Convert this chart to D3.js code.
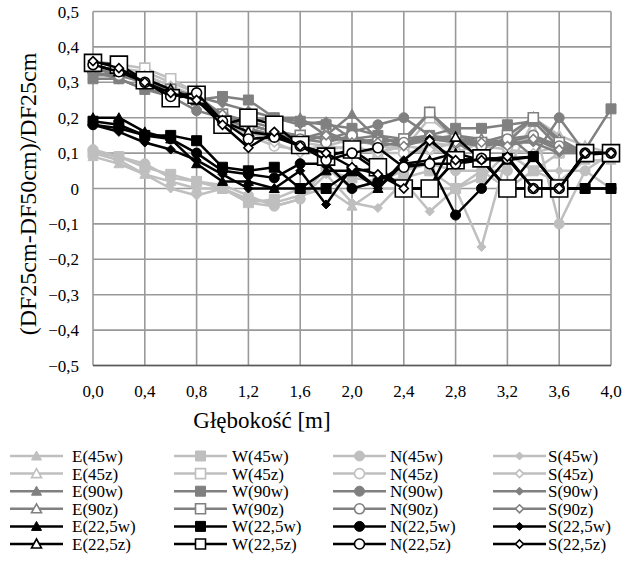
<!DOCTYPE html>
<html>
<head>
<meta charset="utf-8">
<script src="https://cdn.jsdelivr.net/npm/d3@7"></script>
</head>
<body style="margin:0">
<svg id="t" width="624" height="563"></svg>
<script>
// depth [m]
var depths = [0, 0.2, 0.4, 0.6, 0.8, 1.0, 1.2, 1.4, 1.6, 1.8, 2.0, 2.2, 2.4, 2.6, 2.8, 3.0, 3.2, 3.4, 3.6, 3.8, 4.0];

// 45 - w
var E45w = [0.09, 0.07, 0.04, 0.02, 0.00, 0.00, -0.03, -0.04, -0.02, 0.00, -0.05, 0.00, 0.00, 0.00, 0.00, 0.05, 0.00, 0.05, 0.02, 0.08, 0.08];
var W45w = [0.10, 0.09, 0.06, 0.04, 0.02, 0.00, -0.04, -0.03, 0.00, 0.05, 0.03, 0.02, 0.03, 0.05, 0.00, 0.03, 0.10, 0.05, 0.10, 0.10, 0.10];
var N45w = [0.11, 0.09, 0.07, 0.03, 0.02, 0.01, -0.02, -0.05, -0.03, 0.06, 0.00, 0.02, 0.05, 0.07, 0.05, 0.05, 0.05, 0.19, -0.10, 0.05, 0.10];
var S45w = [0.10, 0.08, 0.04, 0.00, -0.02, 0.00, -0.04, -0.05, -0.03, 0.04, -0.04, -0.055, 0.02, -0.065, 0.00, -0.165, 0.10, 0.05, 0.05, 0.05, 0.00];
// 45 - z
var E45z = [0.34, 0.34, 0.33, 0.30, 0.27, 0.20, 0.16, 0.14, 0.14, 0.15, 0.12, 0.10, 0.13, 0.13, 0.12, 0.13, 0.15, 0.20, 0.15, 0.12, 0.10];
var W45z = [0.36, 0.35, 0.34, 0.31, 0.27, 0.20, 0.17, 0.15, 0.13, 0.12, 0.14, 0.12, 0.11, 0.20, 0.14, 0.13, 0.14, 0.19, 0.12, 0.10, 0.10];
var N45z = [0.35, 0.33, 0.31, 0.28, 0.25, 0.19, 0.15, 0.12, 0.11, 0.12, 0.11, 0.10, 0.10, 0.11, 0.10, 0.13, 0.12, 0.15, 0.10, 0.10, 0.10];
var S45z = [0.35, 0.33, 0.32, 0.29, 0.26, 0.20, 0.16, 0.13, 0.10, 0.11, 0.12, 0.10, 0.12, 0.11, 0.13, 0.12, 0.11, 0.10, 0.12, 0.10, 0.10];
// 90 - w
var E90w = [0.32, 0.33, 0.30, 0.27, 0.25, 0.21, 0.19, 0.20, 0.20, 0.15, 0.21, 0.14, 0.13, 0.15, 0.14, 0.12, 0.13, 0.15, 0.11, 0.10, 0.10];
var W90w = [0.31, 0.31, 0.28, 0.27, 0.25, 0.26, 0.25, 0.20, 0.19, 0.18, 0.17, 0.15, 0.14, 0.15, 0.17, 0.17, 0.18, 0.19, 0.115, 0.11, 0.225];
var N90w = [0.33, 0.31, 0.28, 0.26, 0.22, 0.20, 0.18, 0.16, 0.15, 0.14, 0.16, 0.18, 0.20, 0.15, 0.13, 0.09, 0.15, 0.09, 0.20, 0.10, 0.10];
var S90w = [0.32, 0.32, 0.30, 0.27, 0.26, 0.24, 0.22, 0.20, 0.18, 0.19, 0.14, 0.15, 0.12, 0.14, 0.15, 0.13, 0.13, 0.13, 0.10, 0.10, 0.10];
// 90 - z
var E90z = [0.35, 0.33, 0.31, 0.28, 0.26, 0.20, 0.19, 0.17, 0.14, 0.16, 0.13, 0.14, 0.13, 0.215, 0.15, 0.14, 0.13, 0.20, 0.14, 0.10, 0.10];
var W90z = [0.34, 0.33, 0.30, 0.28, 0.25, 0.21, 0.18, 0.16, 0.15, 0.14, 0.14, 0.13, 0.14, 0.215, 0.14, 0.13, 0.15, 0.20, 0.13, 0.10, 0.10];
var N90z = [0.34, 0.32, 0.30, 0.27, 0.25, 0.20, 0.17, 0.15, 0.14, 0.13, 0.15, 0.12, 0.13, 0.14, 0.13, 0.12, 0.14, 0.15, 0.12, 0.10, 0.10];
var S90z = [0.35, 0.33, 0.30, 0.28, 0.26, 0.21, 0.18, 0.16, 0.13, 0.15, 0.13, 0.13, 0.12, 0.15, 0.13, 0.13, 0.12, 0.14, 0.11, 0.10, 0.10];
// 22,5 - w
var E22w = [0.20, 0.20, 0.16, 0.14, 0.07, 0.02, 0.02, 0.00, 0.00, 0.05, 0.05, 0.00, 0.07, 0.08, 0.10, 0.08, 0.08, 0.09, 0.00, 0.00, 0.10];
var W22w = [0.19, 0.18, 0.15, 0.15, 0.135, 0.06, 0.05, 0.06, 0.00, 0.00, 0.05, 0.055, 0.00, 0.00, 0.08, 0.085, 0.085, 0.09, 0.00, 0.00, 0.00];
var N22w = [0.18, 0.17, 0.15, 0.14, 0.10, 0.05, 0.04, 0.03, 0.07, 0.07, 0.00, 0.02, 0.065, 0.07, -0.075, 0.00, 0.085, 0.00, 0.00, 0.00, 0.00];
var S22w = [0.18, 0.16, 0.13, 0.11, 0.08, 0.04, 0.00, 0.00, 0.05, -0.045, 0.06, 0.00, 0.08, 0.14, 0.07, 0.08, 0.00, 0.09, 0.00, 0.10, 0.10];
// 22,5 - z
var E22z = [0.35, 0.33, 0.31, 0.28, 0.25, 0.19, 0.16, 0.15, 0.12, 0.10, 0.10, 0.05, 0.00, 0.00, 0.145, 0.08, 0.00, 0.00, 0.00, 0.095, 0.10];
var W22z = [0.355, 0.35, 0.306, 0.255, 0.265, 0.18, 0.20, 0.18, 0.123, 0.09, 0.11, 0.06, 0.00, 0.00, 0.08, 0.085, 0.00, 0.00, 0.00, 0.10, 0.10];
var N22z = [0.35, 0.33, 0.30, 0.26, 0.27, 0.19, 0.14, 0.145, 0.12, 0.08, 0.10, 0.115, 0.06, 0.07, 0.07, 0.085, 0.085, 0.00, 0.00, 0.10, 0.10];
var S22z = [0.36, 0.34, 0.30, 0.27, 0.25, 0.18, 0.115, 0.16, 0.12, 0.10, 0.06, 0.04, 0.00, 0.135, 0.08, 0.08, 0.09, 0.00, 0.00, 0.10, 0.10];

var xTicks = [0, 0.4, 0.8, 1.2, 1.6, 2.0, 2.4, 2.8, 3.2, 3.6, 4.0];
var yTicks = [-0.5, -0.4, -0.3, -0.2, -0.1, 0, 0.1, 0.2, 0.3, 0.4, 0.5];

// series in Excel order (legend is row-major, 4 columns)
var series = [
    {name: "E(45w)", dir: "E", grp: "45", hollow: false, v: E45w},
    {name: "W(45w)", dir: "W", grp: "45", hollow: false, v: W45w},
    {name: "N(45w)", dir: "N", grp: "45", hollow: false, v: N45w},
    {name: "S(45w)", dir: "S", grp: "45", hollow: false, v: S45w},
    {name: "E(45z)", dir: "E", grp: "45", hollow: true, v: E45z},
    {name: "W(45z)", dir: "W", grp: "45", hollow: true, v: W45z},
    {name: "N(45z)", dir: "N", grp: "45", hollow: true, v: N45z},
    {name: "S(45z)", dir: "S", grp: "45", hollow: true, v: S45z},
    {name: "E(90w)", dir: "E", grp: "90", hollow: false, v: E90w},
    {name: "W(90w)", dir: "W", grp: "90", hollow: false, v: W90w},
    {name: "N(90w)", dir: "N", grp: "90", hollow: false, v: N90w},
    {name: "S(90w)", dir: "S", grp: "90", hollow: false, v: S90w},
    {name: "E(90z)", dir: "E", grp: "90", hollow: true, v: E90z},
    {name: "W(90z)", dir: "W", grp: "90", hollow: true, v: W90z},
    {name: "N(90z)", dir: "N", grp: "90", hollow: true, v: N90z},
    {name: "S(90z)", dir: "S", grp: "90", hollow: true, v: S90z},
    {name: "E(22,5w)", dir: "E", grp: "22", hollow: false, v: E22w},
    {name: "W(22,5w)", dir: "W", grp: "22", hollow: false, v: W22w},
    {name: "N(22,5w)", dir: "N", grp: "22", hollow: false, v: N22w},
    {name: "S(22,5w)", dir: "S", grp: "22", hollow: false, v: S22w},
    {name: "E(22,5z)", dir: "E", grp: "22", hollow: true, v: E22z},
    {name: "W(22,5z)", dir: "W", grp: "22", hollow: true, v: W22z, big: true},
    {name: "N(22,5z)", dir: "N", grp: "22", hollow: true, v: N22z},
    {name: "S(22,5z)", dir: "S", grp: "22", hollow: true, v: S22z}
];

var colors = {"45": "#bfbfbf", "90": "#808080", "22": "#000000"};
// font list built the same way as in the font test page
var fontNames = ["Times New Roman", "Liberation Serif", "Tinos", "Nimbus Roman", "FreeSerif"];
var fontFam = fontNames.map(function(f){ return "'" + f + "'"; }).join(", ") + ", sans-serif";
var fmt = function(d){ return d3.format(".1f")(d).replace(".", ","); };

var svg = d3.select("#t");
var plotL = 93, plotR = 611, plotT = 11.5, plotB = 365.5;

var x = d3.scaleLinear().domain([0, 4]).range([plotL, plotR]);
var y = d3.scaleLinear().domain([-0.5, 0.5]).range([plotB, plotT]);

//marker shapes, s = width in px
function markerPath(dir, s){
    var h = s / 2;
    if (dir === "E"){
        return "M0," + (-h) + "L" + h + "," + (h * 0.8) + "L" + (-h) + "," + (h * 0.8) + "Z";
    } else if (dir === "W"){
        return "M" + (-h) + "," + (-h) + "H" + h + "V" + h + "H" + (-h) + "Z";
    } else if (dir === "N"){
        return d3.symbol(d3.symbolCircle, Math.PI * h * h)();
    } else {
        return "M0," + (-h) + "L" + h + ",0L0," + h + "L" + (-h) + ",0Z";
    }
}
function markerSize(s){
    if (s.big) return 17;
    if (s.dir === "S") return 9;
    return 10;
}

// gridlines
var grid = svg.append("g");
grid.selectAll(".hg")
    .data(yTicks)
    .enter()
    .append("line")
    .attr("x1", plotL).attr("x2", plotR)
    .attr("y1", function(d){ return y(d); })
    .attr("y2", function(d){ return y(d); })
    .attr("stroke", "#999")
    .attr("stroke-width", 1.6);
grid.selectAll(".vg")
    .data(xTicks)
    .enter()
    .append("line")
    .attr("y1", plotT).attr("y2", plotB)
    .attr("x1", function(d){ return x(d); })
    .attr("x2", function(d){ return x(d); })
    .attr("stroke", "#999")
    .attr("stroke-width", 1.6);
svg.append("line")
    .attr("x1", plotL).attr("x2", plotR)
    .attr("y1", plotB).attr("y2", plotB)
    .attr("stroke", "#595959")
    .attr("stroke-width", 1.6);

// tick labels
svg.append("g").selectAll("text")
    .data(yTicks)
    .enter()
    .append("text")
    .attr("x", plotL - 14)
    .attr("y", function(d){ return y(d) + 6; })
    .attr("text-anchor", "end")
    .style("font-family", function(){ return fontFam; })
    .style("font-size", "17px")
    .text(function(d){ return d === 0 ? "0" : fmt(d); });

svg.append("g").selectAll("text")
    .data(xTicks)
    .enter()
    .append("text")
    .attr("x", function(d){ return x(d); })
    .attr("y", plotB + 31)
    .attr("text-anchor", "middle")
    .style("font-family", function(){ return fontFam; })
    .style("font-size", "17px")
    .text(fmt);

svg.append("text")
    .attr("x", 262).attr("y", 428)
    .attr("text-anchor", "middle")
    .style("font-family", function(){ return fontFam; })
    .style("font-size", "23px")
    .text("Głębokość [m]");
svg.append("text")
    .attr("transform", "translate(36,194) rotate(-90)")
    .attr("text-anchor", "middle")
    .style("font-family", function(){ return fontFam; })
    .style("font-size", "24px")
    .text("(DF25cm-DF50cm)/DF25cm");

// series
var line = d3.line()
    .x(function(d, i){ return x(depths[i]); })
    .y(function(d){ return y(d); });

series.forEach(function(s){
    var col = colors[s.grp];
    var g = svg.append("g");
    g.append("path")
        .attr("d", line(s.v))
        .attr("fill", "none")
        .attr("stroke", col)
        .attr("stroke-width", 2.5)
        .attr("stroke-linejoin", "round");
    g.selectAll("path.m")
        .data(s.v)
        .enter()
        .append("path")
        .attr("class", "m")
        .attr("transform", function(d, i){ return "translate(" + x(depths[i]) + "," + y(d) + ")"; })
        .attr("d", markerPath(s.dir, markerSize(s)))
        .attr("fill", s.hollow ? "#fff" : col)
        .attr("stroke", col)
        .attr("stroke-width", s.hollow ? 1.6 : 1);
});

// legend
var colX = [10, 174, 333, 493];
var textX = [72, 232, 390, 548];
series.forEach(function(s, i){
    var c = i % 4, r = Math.floor(i / 4);
    var cy = 456 + r * 17.6;
    var col = colors[s.grp];
    svg.append("line")
        .attr("x1", colX[c]).attr("x2", colX[c] + 53)
        .attr("y1", cy).attr("y2", cy)
        .attr("stroke", col)
        .attr("stroke-width", 2.5);
    svg.append("path")
        .attr("transform", "translate(" + (colX[c] + 26.5) + "," + cy + ")")
        .attr("d", markerPath(s.dir, s.dir === "S" ? 8 : 10))
        .attr("fill", s.hollow ? "#fff" : col)
        .attr("stroke", col)
        .attr("stroke-width", s.hollow ? 1.6 : 1);
});
svg.append("g").selectAll("text")
    .data(series)
    .enter()
    .append("text")
    .attr("x", function(d, i){ return textX[i % 4]; })
    .attr("y", function(d, i){ return 456 + Math.floor(i / 4) * 17.6 + 6; })
    .style("font-family", function(){ return fontFam; })
    .style("font-size", "17px")
    .text(function(d){ return d.name; });
</script>
</body>
</html>
